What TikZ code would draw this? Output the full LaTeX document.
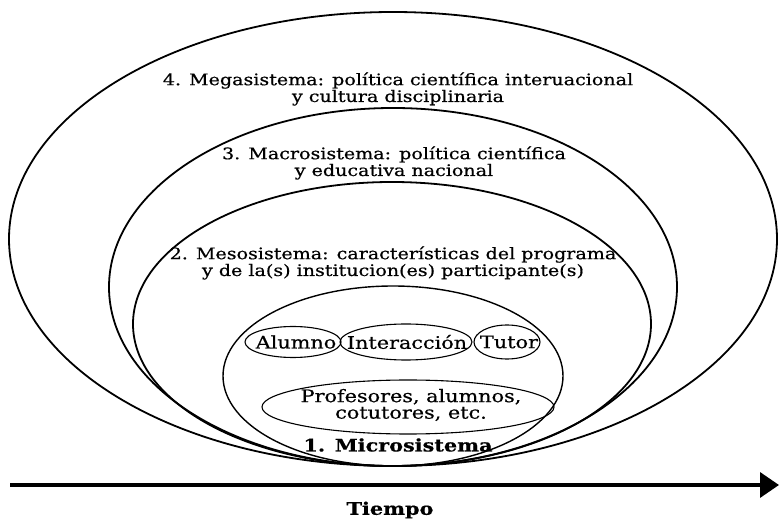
\documentclass[tikz,border=0pt]{standalone}
\usepackage{fontspec}
\setmainfont[FakeStretch=1.2,FakeBold=0.6]{DejaVu Serif}
\usetikzlibrary{arrows.meta,shapes.geometric}
\tikzset{
  sys/.style={draw=black, line width=1.8pt},
  micro/.style={draw=black, line width=1.4pt},
  part/.style={draw=black, line width=1.1pt, ellipse, inner sep=0pt},
  lbl/.style={align=center, inner sep=0pt, font=\fontsize{15.9}{16.8}\selectfont},
  small/.style={align=center, inner sep=0pt, font=\fontsize{17.3}{16.5}\selectfont},
  boldlbl/.style={inner sep=0pt, font=\fontsize{17.3}{17}\selectfont\bfseries},
  timearrow/.style={line width=3.5pt, -{Triangle[length=19pt,width=25pt]}}
}
\begin{document}
\begin{tikzpicture}[x=1pt,y=-1pt]
\useasboundingbox (0,0) rectangle (780,521);
% nested systems
\draw[sys] (393,239) ellipse [x radius=384, y radius=227];
\draw[sys] (393,287) ellipse [x radius=284, y radius=179];
\draw[sys] (392,324) ellipse [x radius=259, y radius=142];
\draw[micro] (393,376) ellipse [x radius=170, y radius=90];
% micro parts
\node[part, minimum width=96pt, minimum height=31pt] (alumno) at (293,342) {};
\node[part, minimum width=132pt, minimum height=36pt] (inter) at (406,342) {};
\node[part, minimum width=66pt, minimum height=34pt] (tutor) at (507,342) {};
\node[part, minimum width=292pt, minimum height=54pt] (prof) at (408,407) {};
\node[small] (alumnot) at (296,342) {Alumno};
\node[small] (intert) at (407,342) {Interacción};
\node[small] (tutort) at (509,342) {Tutor};
\node[small] (proft) at (411,405) {Profesores, alumnos,\\cotutores, etc.};
% labels
\node[lbl] (mega) at (398,89) {4. Megasistema: política científica interuacional\\y cultura disciplinaria};
\node[lbl] (macro) at (394,163) {3. Macrosistema: política científica\\y educativa nacional};
\node[lbl] (meso) at (393,263) {2. Mesosistema: características del programa\\y de la(s) institucion(es) participante(s)};
\node[boldlbl] (microt) at (398,445) {1. Microsistema};
% time
\coordinate (t0) at (10,485);
\coordinate (t1) at (779,485);
\draw[timearrow] (t0) -- (t1);
\node[boldlbl] (tiempo) at (390,510) {Tiempo};
\end{tikzpicture}
\end{document}
